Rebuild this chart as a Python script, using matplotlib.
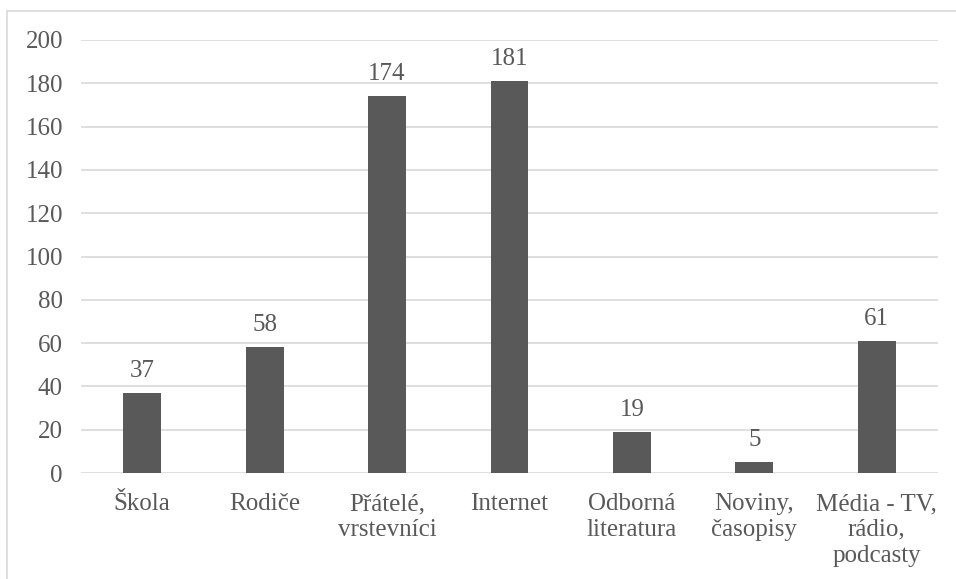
import matplotlib
matplotlib.use("Agg")
import matplotlib.pyplot as plt
from matplotlib.lines import Line2D

categories = ["Škola", "Rodiče", "Přátelé,\nvrstevníci", "Internet",
              "Odborná\nliteratura", "Noviny,\nčasopisy", "Média - TV,\nrádio,\npodcasty"]
values = [37, 58, 174, 181, 19, 5, 61]
yticks = [0, 20, 40, 60, 80, 100, 120, 140, 160, 180, 200]

plt.rcParams['font.family'] = ['Liberation Serif', 'DejaVu Serif']
text_color = "#595959"
fs = 18

fig = plt.figure(figsize=(9.56, 5.79), dpi=100)
ax = fig.add_axes([81/956, 1-473/579, (938-81)/956, (473-40)/579])

x = list(range(len(categories)))
bars = ax.bar(x, values, width=0.31, color="#595959", zorder=3)
ax.bar_label(bars, labels=[str(v) for v in values], padding=8,
             fontsize=fs, color=text_color)

ax.set_xlim(-0.5, len(categories)-0.5)
ax.set_ylim(0, 200)
ax.set_yticks(yticks)
ax.set_yticklabels([str(t) for t in yticks])
ax.set_xticks(x)
ax.set_xticklabels(categories, fontsize=fs, color=text_color, linespacing=1.22)
ax.tick_params(axis='y', length=0, pad=13, labelsize=fs, labelcolor=text_color)
ax.tick_params(axis='x', length=0, pad=14.5)
ax.grid(axis='y', color="#d9d9d9", linewidth=1.2, zorder=0)
for s in ax.spines.values():
    s.set_visible(False)

# outer chart border (top and left visible)
fig.add_artist(Line2D([7/956, 1], [1-11/579, 1-11/579], transform=fig.transFigure,
                      color="#d9d9d9", linewidth=1.2))
fig.add_artist(Line2D([7/956, 7/956], [0, 1-11/579], transform=fig.transFigure,
                      color="#d9d9d9", linewidth=1.2))

fig.savefig("out.png", dpi=100)
